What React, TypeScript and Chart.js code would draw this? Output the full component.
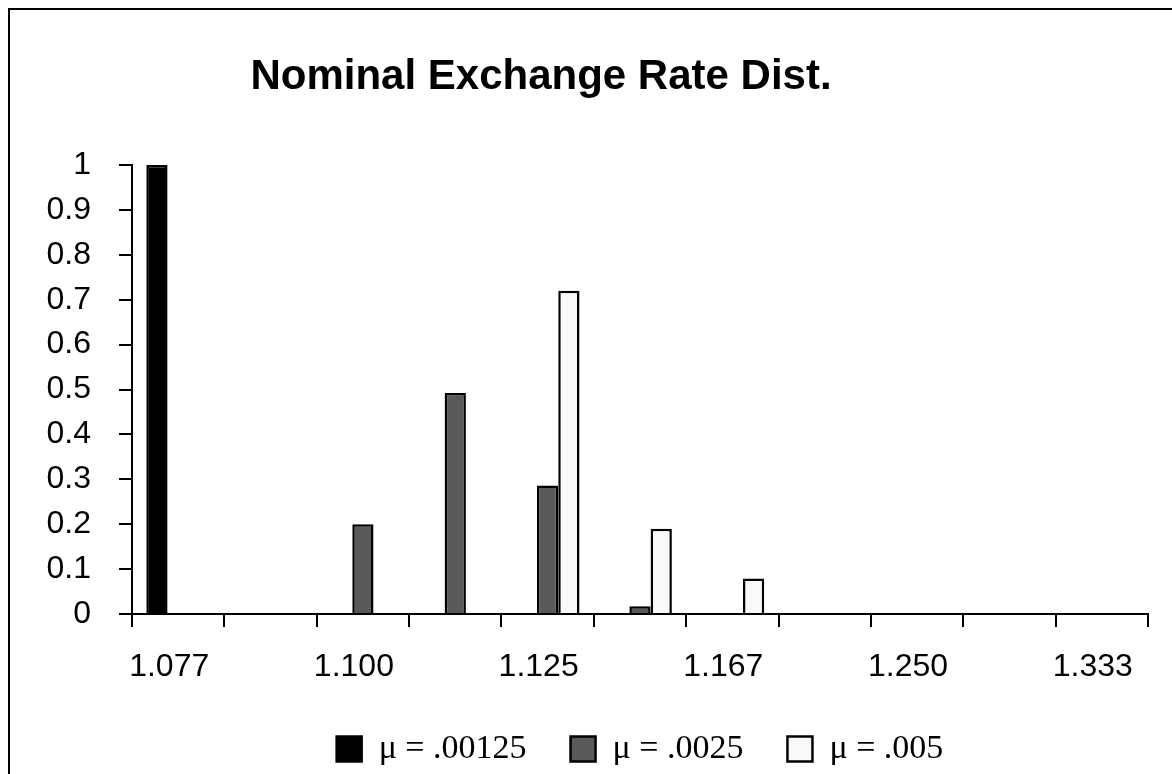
import React, { useEffect, useRef } from "react";
import { Chart, registerables } from "chart.js";

Chart.register(...registerables);

const chartTitle = "Nominal Exchange Rate Dist.";
const categories = ["1.077", "1.091", "1.100", "1.111", "1.125", "1.143", "1.167", "1.200", "1.250", "1.286", "1.333"];
const seriesNames = ["\u03bc = .00125", "\u03bc = .0025", "\u03bc = .005"];
const seriesMu00125 = [1.0, 0, 0, 0, 0, 0, 0, 0, 0, 0, 0];
const seriesMu0025 = [0, 0, 0.2, 0.492, 0.286, 0.017, 0, 0, 0, 0, 0];
const seriesMu005 = [0, 0, 0, 0, 0.72, 0.19, 0.079, 0, 0, 0, 0];
const yMin = 0;
const yMax = 1;
const yStep = 0.1;

const W = 1172;
const H = 780;

const framePlugin = {
  id: "frameAndTitle",
  beforeDraw(chart: any) {
    const ctx = chart.ctx;
    ctx.save();
    ctx.fillStyle = "#ffffff";
    ctx.fillRect(0, 0, chart.width, chart.height);
    ctx.fillStyle = "#000000";
    ctx.fillRect(8, 8, chart.width, 2);
    ctx.fillRect(8, 8, 2, chart.height);
    ctx.restore();
  },
  afterDraw(chart: any) {
    const ctx = chart.ctx;
    ctx.save();
    ctx.fillStyle = "#000000";
    ctx.font = 'bold 42px "Liberation Sans", Arial, sans-serif';
    ctx.textAlign = "center";
    ctx.textBaseline = "alphabetic";
    ctx.fillText(chartTitle, 541, 89);
    ctx.restore();
  },
};

export default function App() {
  const ref = useRef<HTMLCanvasElement | null>(null);
  useEffect(() => {
    if (!ref.current) return;
    const chart = new Chart(ref.current, {
      type: "bar",
      data: {
        labels: categories,
        datasets: [
          {
            label: seriesNames[0],
            data: seriesMu00125,
            backgroundColor: "#000000",
            borderColor: "#000000",
            borderWidth: 2.5,
          },
          {
            label: seriesNames[1],
            data: seriesMu0025,
            backgroundColor: "#595959",
            borderColor: "#000000",
            borderWidth: 2.5,
          },
          {
            label: seriesNames[2],
            data: seriesMu005,
            backgroundColor: "#f9f9f9",
            borderColor: "#000000",
            borderWidth: 2.5,
          },
        ],
      },
      options: {
        responsive: false,
        animation: false,
        devicePixelRatio: 1,
        layout: { padding: { top: 165, right: 24, bottom: 4, left: 0 } },
        datasets: { bar: { categoryPercentage: 0.69, barPercentage: 1.0, borderSkipped: "start" } },
        plugins: {
          title: { display: false },
          tooltip: { enabled: false },
          legend: {
            display: true,
            position: "bottom",
            fullSize: false,
            labels: {
              boxWidth: 25,
              boxHeight: 25,
              padding: 44,
              color: "#000000",
              font: { family: '"Liberation Serif", "Times New Roman", serif', size: 34 },
            },
          },
        },
        scales: {
          x: {
            type: "category",
            offset: true,
            afterFit(scale: any) {
              scale.height = 74;
            },
            border: { display: true, color: "#000000", width: 2 },
            grid: {
              display: true,
              offset: true,
              drawOnChartArea: false,
              drawTicks: true,
              tickLength: 13,
              color: "#000000",
              lineWidth: 2,
            },
            ticks: {
              autoSkip: false,
              maxRotation: 0,
              minRotation: 0,
              padding: 21,
              labelOffset: -9,
              color: "#000000",
              font: { family: '"Liberation Sans", Arial, sans-serif', size: 32 },
              callback: (_v: any, i: number) => (i % 2 === 0 ? categories[i] : ""),
            },
          },
          y: {
            min: yMin,
            max: yMax,
            afterFit(scale: any) {
              scale.width = 132;
            },
            border: { display: true, color: "#000000", width: 2 },
            grid: {
              display: true,
              drawOnChartArea: false,
              drawTicks: true,
              tickLength: 13,
              color: "#000000",
              lineWidth: 2,
            },
            ticks: {
              stepSize: yStep,
              padding: 28,
              color: "#000000",
              font: { family: '"Liberation Sans", Arial, sans-serif', size: 32 },
              callback: (v: any) => String(Number(Number(v).toFixed(1))),
            },
          },
        },
      },
      plugins: [framePlugin],
    });
    return () => chart.destroy();
  }, []);

  return (
    <div style={{ position: "fixed", left: 0, top: 0, width: W, height: 774, overflow: "hidden", background: "#fff" }}>
      <canvas ref={ref} width={W} height={H} style={{ width: W, height: H, display: "block" }} />
    </div>
  );
}
